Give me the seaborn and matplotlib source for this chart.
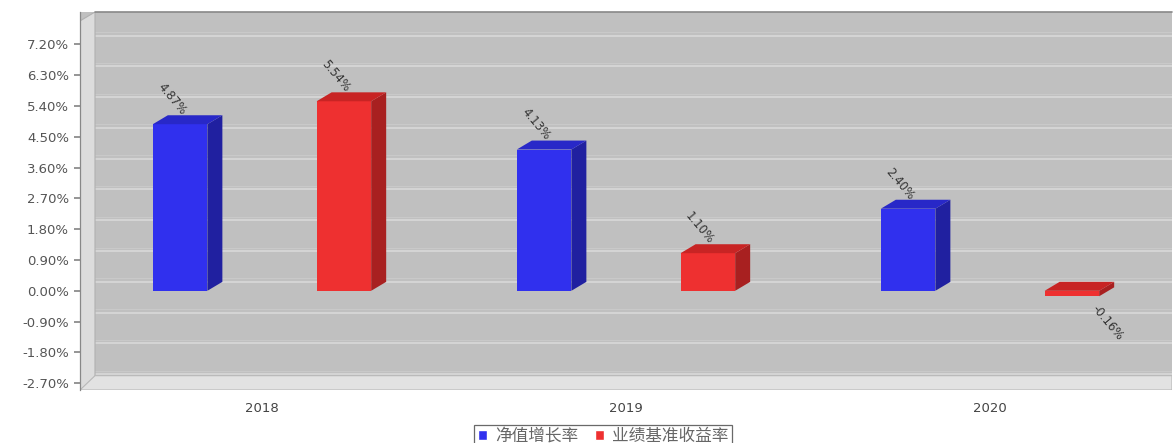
import numpy as np
import pandas as pd
import matplotlib
matplotlib.use("Agg")
import matplotlib.pyplot as plt
from matplotlib.patches import Polygon
import seaborn as sns

years = ["2018", "2019", "2020"]
series = ["净值增长率", "业绩基准收益率"]
nav_growth = [4.87, 4.13, 2.40]
benchmark = [5.54, 1.10, -0.16]
ytick_vals = [-2.70, -1.80, -0.90, 0.00, 0.90, 1.80, 2.70, 3.60, 4.50, 5.40, 6.30, 7.20]

front_colors = {"净值增长率": "#3030ee", "业绩基准收益率": "#ee3030"}
side_colors = {"净值增长率": "#2020a0", "业绩基准收益率": "#a82020"}
top_colors = {"净值增长率": "#2828c8", "业绩基准收益率": "#c82424"}

df = pd.DataFrame({
    "year": years * 2,
    "series": [series[0]] * 3 + [series[1]] * 3,
    "value": nav_growth + benchmark,
})

sns.set_theme(style="white")
plt.rcParams["font.family"] = ["Noto Sans CJK SC", "DejaVu Sans"]

fig = plt.figure(figsize=(11.76, 4.43), dpi=100)
ax = fig.add_axes([80 / 1176, 1 - 390 / 443, 1092 / 1176, 378 / 443])

ax.set_facecolor("#c0c0c0")
sns.barplot(data=df, x="year", y="value", hue="series", order=years,
            hue_order=series, palette=front_colors, width=0.9, gap=0.667,
            saturation=1, edgecolor="none", linewidth=0, ax=ax, zorder=3)

ax.set_xlim(-0.5, 2.5)
ax.set_ylim(-2.9, 8.15)

# depth of 3D effect in data units
dx = 15 / 364
dy = 9 / 34.4

# back-wall grid lines (shifted by depth)
for t in ytick_vals:
    ax.axhline(t + dy, color="#d4d4d4", lw=1.5, zorder=1)
    ax.axhline(t + dy + 0.1, color="#c9c9c9", lw=0.8, zorder=1)

# left wall and floor
xl0, xl1 = ax.get_xlim()
yl0, yl1 = ax.get_ylim()
ax.add_patch(Polygon([(xl0, yl0), (xl0 + dx, yl0 + dy), (xl0 + dx, yl1), (xl0, yl1 - dy)],
                     closed=True, facecolor="#dcdcdc", edgecolor="#b0b0b0", lw=0.8, zorder=2))
ax.add_patch(Polygon([(xl0, yl0), (xl0 + dx, yl0 + dy * 1.6), (xl1, yl0 + dy * 1.6), (xl1, yl0)],
                     closed=True, facecolor="#e2e2e2", edgecolor="#b8b8b8", lw=0.8, zorder=2))
ax.plot([xl0 + dx, xl1], [yl1, yl1], color="#888888", lw=1.2, zorder=4, clip_on=False)

bars = [p for p in ax.patches if isinstance(p, matplotlib.patches.Rectangle) and 0 < p.get_width() < 1]
values = nav_growth + benchmark
for i, bar in enumerate(bars):
    ser_idx = 0 if i < 3 else 1
    name = series[ser_idx]
    x0 = bar.get_x()
    w = bar.get_width()
    h = bar.get_height()
    y0 = bar.get_y()
    top = y0 + h
    lo, hi = min(y0, top), max(y0, top)
    ax.add_patch(Polygon([(x0 + w, lo), (x0 + w + dx, lo + dy), (x0 + w + dx, hi + dy), (x0 + w, hi)],
                         closed=True, facecolor=side_colors[name], edgecolor="none", zorder=3))
    ax.add_patch(Polygon([(x0, hi), (x0 + dx, hi + dy), (x0 + w + dx, hi + dy), (x0 + w, hi)],
                         closed=True, facecolor=top_colors[name], edgecolor="none", zorder=3))
    val = values[i]
    label = f"{val:.2f}%"
    if val >= 0:
        ax.annotate(label, (x0 + w / 2, hi), xytext=(-6, 18), textcoords="offset points",
                    ha="center", va="center", rotation=-50, fontsize=8.5, color="#333333",
                    family=["DejaVu Sans"], zorder=5)
    else:
        ax.annotate(label, (x0 + w, lo), xytext=(6, -19), textcoords="offset points",
                    ha="center", va="center", rotation=-50, fontsize=8.5, color="#333333",
                    family=["DejaVu Sans"], zorder=5)

ax.set_yticks(ytick_vals)
ax.set_yticklabels([f"{v:.2f}%" for v in ytick_vals], fontsize=9.5, color="#555555",
                   family=["DejaVu Sans"])
ax.tick_params(axis="y", length=4, color="#888888", pad=4, left=True)
ax.tick_params(axis="x", labelsize=9.5, labelcolor="#444444", length=0, pad=9)
for lab in ax.get_xticklabels():
    lab.set_family(["DejaVu Sans"])
ax.set_xlabel("")
ax.set_ylabel("")
for s in ["top", "right", "bottom"]:
    ax.spines[s].set_visible(False)
ax.spines["left"].set_color("#888888")
ax.spines["left"].set_linewidth(0.9)

leg = ax.get_legend()
if leg is not None:
    leg.remove()
handles = [matplotlib.patches.Rectangle((0, 0), 1, 1, facecolor=front_colors[s]) for s in series]
fig.legend(handles, series, loc="lower center", bbox_to_anchor=(0.513, -0.012), ncol=2,
           frameon=True, handlelength=0.55, handleheight=0.55, handletextpad=0.5,
           columnspacing=1.0, borderpad=0.2, borderaxespad=0.0, edgecolor="#444444", fancybox=False,
           labelcolor="#666666",
           prop={"family": ["Noto Sans CJK SC", "DejaVu Sans"], "size": 12}).get_frame().set_linewidth(0.9)

fig.savefig("out.png", dpi=100)
